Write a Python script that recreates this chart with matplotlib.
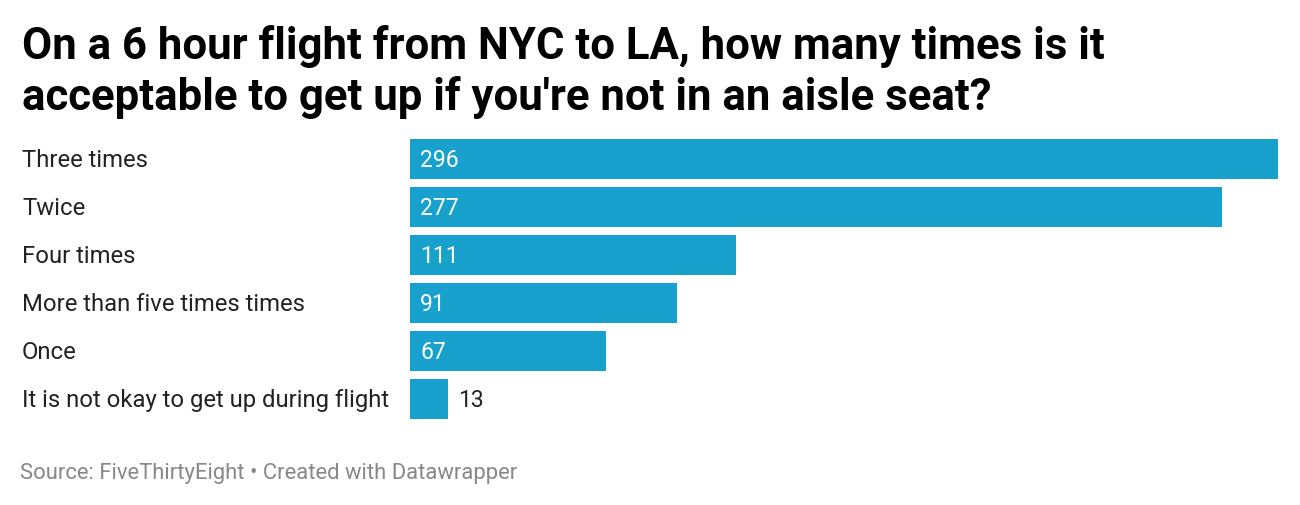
import matplotlib.pyplot as plt

plt.rcParams["font.family"] = ["Roboto", "DejaVu Sans"]

# ---------- Data ----------
categories = [
    "Three times",
    "Twice",
    "Four times",
    "More than five times times",
    "Once",
    "It is not okay to get up during flight",
]
counts = [296, 277, 111, 91, 67, 13]

title = ("On a 6 hour flight from NYC to LA, how many times is it\n"
         "acceptable to get up if you're not in an aisle seat?")
source = "Source: FiveThirtyEight \u2022 Created with Datawrapper"

W, H = 1300, 506
PX = 2.932  # pixels per unit on the x axis
fig = plt.figure(figsize=(W / 100, H / 100), dpi=100)

# axes in pixel coordinates: bars from x=410 to 1278, rows 136..424
ax = fig.add_axes([410 / W, 1 - 424 / H, (1278 - 410) / W, 288 / H])
ypos = list(range(len(categories)))
ax.barh(ypos, counts, height=40 / 48, color="#18a1cd")
ax.set_xlim(0, max(counts))
ax.set_ylim(len(categories) - 0.5, -0.5)
ax.axis("off")

for y, cat, v in zip(ypos, categories, counts):
    ax.text(-388 / PX, y + 0.02, cat, ha="left", va="center",
            fontsize=17.2, color="#222222")
    if v > 30:
        ax.text(10 / PX, y + 0.02, str(v), ha="left", va="center",
                fontsize=16.5, color="white")
    else:
        ax.text(v + 10 / PX, y + 0.02, str(v), ha="left", va="center",
                fontsize=16.5, color="#222222")

fig.text(22 / W, 1 - 25 / H, title, ha="left", va="top",
         fontsize=31.5, fontweight="bold", color="black", linespacing=1.24)
fig.text(20 / W, 1 - 474 / H, source, ha="left", va="center",
         fontsize=15.8, color="#888888")

fig.savefig("out.png", dpi=100, facecolor="white")
